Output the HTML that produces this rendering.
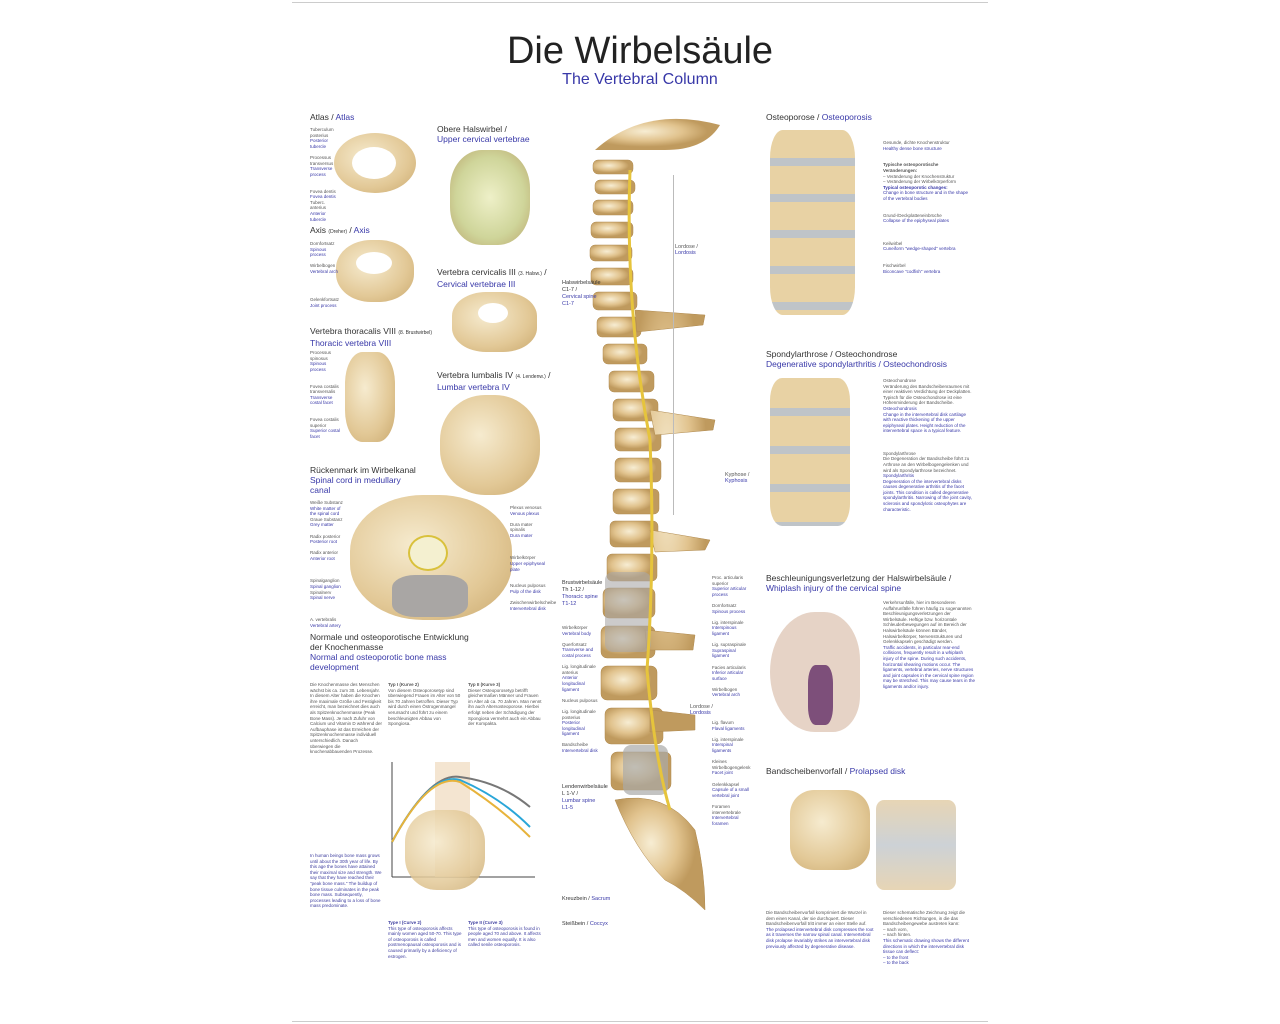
<!DOCTYPE html>
<html><head><meta charset="utf-8"><style>
body{margin:0;background:#fff;width:1280px;height:1024px;overflow:hidden;position:relative;font-family:"Liberation Sans",sans-serif;color:#333}
.a{position:absolute}
.h{font-size:8.5px;color:#333;line-height:10px}
.b{color:#3838a8}
.s{font-size:4.5px;line-height:5.6px;color:#555}
.sb{font-size:4.5px;line-height:5.6px;color:#4040a0}
.bone{position:absolute;background:radial-gradient(ellipse at 40% 40%,#f6ebcf,#e2c896 60%,#c9a86d);border-radius:40%}
</style></head><body>
<div class="a" style="left:292px;top:2px;width:696px;border-top:1px solid #ccc"></div>
<div class="a" style="left:292px;top:1021px;width:696px;border-top:1px solid #ccc"></div>
<div class="a" style="left:0;width:1280px;top:30px;text-align:center;font-size:38px;color:#222">Die Wirbelsäule</div>
<div class="a b" style="left:0;width:1280px;top:71px;text-align:center;font-size:16px">The Vertebral Column</div>

<div class="a h" style="left:310px;top:112px">Atlas / <span class="b">Atlas</span></div>
<div class="a h" style="left:310px;top:225px">Axis <span style="font-size:5px">(Dreher)</span> / <span class="b">Axis</span></div>
<div class="a h" style="left:310px;top:326px">Vertebra thoracalis VIII <span style="font-size:5px">(8. Brustwirbel)</span><br><span class="b">Thoracic vertebra VIII</span></div>
<div class="a h" style="left:310px;top:465px">Rückenmark im Wirbelkanal<br><span class="b">Spinal cord in medullary<br>canal</span></div>
<div class="a h" style="left:310px;top:632px">Normale und osteoporotische Entwicklung<br>der Knochenmasse<br><span class="b">Normal and osteoporotic bone mass<br>development</span></div>
<div class="a h" style="left:437px;top:124px">Obere Halswirbel /<br><span class="b">Upper cervical vertebrae</span></div>
<div class="a h" style="left:437px;top:267px">Vertebra cervicalis III <span style="font-size:5px">(3. Halsw.)</span> /<br><span class="b">Cervical vertebrae III</span></div>
<div class="a h" style="left:437px;top:370px">Vertebra lumbalis IV <span style="font-size:5px">(4. Lendenw.)</span> /<br><span class="b">Lumbar vertebra IV</span></div>
<div class="a h" style="left:766px;top:112px">Osteoporose / <span class="b">Osteoporosis</span></div>
<div class="a h" style="left:766px;top:349px">Spondylarthrose / Osteochondrose<br><span class="b">Degenerative spondylarthritis / Osteochondrosis</span></div>
<div class="a h" style="left:766px;top:573px">Beschleunigungsverletzung der Halswirbelsäule /<br><span class="b">Whiplash injury of the cervical spine</span></div>
<div class="a h" style="left:766px;top:766px">Bandscheibenvorfall / <span class="b">Prolapsed disk</span></div>

<div class="bone" style="left:334px;top:133px;width:82px;height:60px;border-radius:50%"></div>
<div class="a" style="left:352px;top:147px;width:44px;height:32px;border-radius:50%;background:#fff"></div>
<div class="bone" style="left:336px;top:240px;width:78px;height:62px;border-radius:45%"></div>
<div class="a" style="left:356px;top:252px;width:36px;height:22px;border-radius:50%;background:#fff"></div>
<div class="bone" style="left:345px;top:352px;width:50px;height:90px;border-radius:35%"></div>
<div class="bone" style="left:450px;top:150px;width:80px;height:95px;background:radial-gradient(#eef0c8,#cfd59a 60%,#b9a46b)"></div>
<div class="bone" style="left:452px;top:292px;width:85px;height:60px"></div>
<div class="a" style="left:478px;top:303px;width:30px;height:20px;border-radius:50%;background:#fff"></div>
<div class="bone" style="left:440px;top:395px;width:100px;height:100px;border-radius:45%"></div>
<div class="bone" style="left:350px;top:495px;width:162px;height:125px;border-radius:45%"></div>
<div class="a" style="left:408px;top:535px;width:36px;height:32px;border-radius:50%;background:#f4f0d0;border:2px solid #d9c13c"></div>
<div class="a" style="left:392px;top:575px;width:76px;height:42px;border-radius:30%;background:#a9a6a4"></div>

<svg class="a" style="left:390px;top:762px" width="150" height="120">
<line x1="2" y1="0" x2="2" y2="115" stroke="#444" stroke-width="1"/>
<line x1="2" y1="115" x2="145" y2="115" stroke="#444"/>
<rect x="45" y="0" width="35" height="115" fill="#f1dfc5" opacity=".8"/>
<path d="M2 80 Q40 10 70 15 Q110 20 140 45" stroke="#777" fill="none" stroke-width="2"/>
<path d="M2 80 Q40 10 70 18 Q110 35 140 65" stroke="#2aa6d8" fill="none" stroke-width="2"/>
<path d="M2 80 Q40 10 70 20 Q110 45 140 75" stroke="#e7b33b" fill="none" stroke-width="2"/>
</svg>
<div class="bone" style="left:405px;top:810px;width:80px;height:80px;border-radius:40%;opacity:.85"></div>

<svg class="a" style="left:555px;top:110px" width="230" height="820">
<defs><radialGradient id="g" cx="40%" cy="40%"><stop offset="0" stop-color="#f7edd3"/><stop offset=".6" stop-color="#e1c38e"/><stop offset="1" stop-color="#bf9a5e"/></radialGradient></defs>
<path d="M40 40 Q90 -5 165 15 Q150 40 110 40 Z" fill="url(#g)"/>
<g fill="url(#g)" stroke="#b08a4f" stroke-width=".5">
<rect x="38" y="50" width="40" height="14" rx="5"/><rect x="40" y="70" width="40" height="14" rx="5"/>
<rect x="38" y="90" width="40" height="15" rx="5"/><rect x="36" y="112" width="42" height="16" rx="5"/>
<rect x="35" y="135" width="42" height="16" rx="5"/><rect x="36" y="158" width="42" height="17" rx="5"/>
<rect x="38" y="182" width="44" height="18" rx="5"/><rect x="42" y="207" width="44" height="20" rx="5"/>
<rect x="48" y="234" width="44" height="20" rx="5"/><rect x="54" y="261" width="45" height="21" rx="5"/>
<rect x="58" y="289" width="45" height="22" rx="5"/><rect x="60" y="318" width="46" height="23" rx="5"/>
<rect x="60" y="348" width="46" height="24" rx="5"/><rect x="58" y="379" width="46" height="25" rx="5"/>
<rect x="55" y="411" width="48" height="26" rx="5"/><rect x="52" y="444" width="50" height="27" rx="5"/>
<rect x="48" y="478" width="52" height="30" rx="6"/><rect x="46" y="516" width="54" height="32" rx="6"/>
<rect x="46" y="556" width="56" height="34" rx="6"/><rect x="50" y="598" width="58" height="36" rx="6"/>
<rect x="56" y="642" width="60" height="38" rx="6"/>
<path d="M60 690 Q110 680 140 720 Q150 760 150 800 Q130 780 110 770 Q80 740 60 690Z"/>
<path d="M80 200 L150 205 L148 215 L82 222Z M95 300 L160 310 L158 320 L100 325Z M95 420 L155 430 L150 440 L100 442Z M90 520 L140 525 L138 540 L92 540Z M95 600 L140 605 L140 620 L95 622Z"/>
</g>
<g fill="#aaa9a8"><rect x="50" y="462" width="46" height="80" rx="8" opacity=".6"/><rect x="68" y="635" width="45" height="50" rx="8" opacity=".7"/></g>
<path d="M75 60 Q70 200 95 330 Q100 450 92 560 Q100 650 115 700" stroke="#e6c43c" stroke-width="3" fill="none"/>
</svg>
<div class="a" style="left:673px;top:175px;width:1px;height:340px;border-left:1px solid #bbb"></div>
<div class="a s" style="left:675px;top:245px;font-size:5.5px">Lordose /<br><span class="b">Lordosis</span></div>
<div class="a s" style="left:725px;top:473px;font-size:5.5px">Kyphose /<br><span class="b">Kyphosis</span></div>
<div class="a s" style="left:690px;top:705px;font-size:5.5px">Lordose /<br><span class="b">Lordosis</span></div>
<div class="a" style="left:562px;top:280px;font-size:5.5px;line-height:7px">Halswirbelsäule<br>C1-7 /<br><span class="b">Cervical spine<br>C1-7</span></div>
<div class="a" style="left:562px;top:580px;font-size:5.5px;line-height:7px">Brustwirbelsäule<br>Th 1-12 /<br><span class="b">Thoracic spine<br>T1-12</span></div>
<div class="a" style="left:562px;top:784px;font-size:5.5px;line-height:7px">Lendenwirbelsäule<br>L 1-V /<br><span class="b">Lumbar spine<br>L1-5</span></div>
<div class="a" style="left:562px;top:896px;font-size:5.5px">Kreuzbein / <span class="b">Sacrum</span></div>
<div class="a" style="left:562px;top:921px;font-size:5.5px">Steißbein / <span class="b">Coccyx</span></div>

<div class="bone" style="left:770px;top:130px;width:85px;height:185px;border-radius:15%;background:repeating-linear-gradient(#e8d2a4 0 28px,#bfc4c8 28px 36px)"></div>
<div class="bone" style="left:770px;top:378px;width:80px;height:148px;border-radius:15%;background:repeating-linear-gradient(#e8d2a4 0 30px,#bfc4c8 30px 38px)"></div>
<div class="a" style="left:770px;top:612px;width:90px;height:120px;border-radius:50% 40% 30% 50%;background:#e6d3c6"></div>
<div class="a" style="left:808px;top:665px;width:25px;height:60px;background:#7d4f7a;border-radius:30%"></div>
<div class="bone" style="left:790px;top:790px;width:80px;height:80px;border-radius:30%"></div>
<div class="a" style="left:876px;top:800px;width:80px;height:90px;background:linear-gradient(#e7d5b5,#cdd2d6 50%,#e7d5b5);border-radius:10%"></div>

<div class="a s" style="left:883px;top:140px;width:90px">Gesunde, dichte Knochenstruktur<br><span class="b">Healthy dense bone structure</span><br><br><br><b>Typische osteoporotische Veränderungen:</b><br>– Veränderung der Knochenstruktur<br>– Veränderung der Wirbelkörperform<br><span class="b"><b>Typical osteoporotic changes:</b><br>Change in bone structure and in the shape of the vertebral bodies</span><br><br><br>Grund-/Deckplatteneinbrüche<br><span class="b">Collapse of the epiphyseal plates</span><br><br><br><br>Keilwirbel<br><span class="b">Cuneiform "wedge-shaped" vertebra</span><br><br><br>Fischwirbel<br><span class="b">Biconcave "codfish" vertebra</span></div>
<div class="a s" style="left:883px;top:378px;width:90px">Osteochondrose<br>Veränderung des Bandscheibenraumes mit einer reaktiven Verdichtung der Deckplatten. Typisch für die Osteochondrose ist eine Höhenminderung der Bandscheibe.<br><span class="b">Osteochondrosis<br>Change in the intervertebral disk cartilage with reactive thickening of the upper epiphyseal plates. Height reduction of the intervertebral space is a typical feature.</span><br><br><br><br>Spondylarthrose<br>Die Degeneration der Bandscheibe führt zu Arthrose an den Wirbelbogengelenken und wird als Spondylarthrose bezeichnet.<br><span class="b">Spondylarthritis<br>Degeneration of the intervertebral disks causes degenerative arthritis of the facet joints. This condition is called degenerative spondylarthritis. Narrowing of the joint cavity, sclerosis and spondylotic osteophytes are characteristic.</span></div>
<div class="a s" style="left:883px;top:600px;width:92px">Verkehrsunfälle, hier im Besonderen Auffahrunfälle führen häufig zu sogenannten Beschleunigungsverletzungen der Wirbelsäule. Heftige bzw. horizontale Schleuderbewegungen auf im Bereich der Halswirbelsäule können Bänder, Halswirbelkörper, Nervenstrukturen und Gelenkkapseln geschädigt werden.<br><span class="b">Traffic accidents, in particular rear-end collisions, frequently result in a whiplash injury of the spine. During such accidents, horizontal shearing motions occur. The ligaments, vertebral arteries, nerve structures and joint capsules in the cervical spine region may be stretched. This may cause tears in the ligaments and/or injury.</span></div>
<div class="a s" style="left:766px;top:910px;width:110px">Die Bandscheibenvorfall komprimiert die Wurzel in dem einen Kanal, der sie durchquert. Dieser Bandscheibenvorfall tritt immer an einer Stelle auf.<br><span class="b">The prolapsed intervertebral disk compresses the root as it traverses the narrow spinal canal. Intervertebral disk prolapse invariably strikes an intervertebral disk previously affected by degenerative disease.</span></div>
<div class="a s" style="left:883px;top:910px;width:90px">Dieser schematische Zeichnung zeigt die verschiedenen Richtungen, in die das Bandscheibengewebe austreten kann:<br>– nach vorn,<br>– nach hinten.<br><span class="b">This schematic drawing shows the different directions in which the intervertebral disk tissue can deflect:<br>– to the front<br>– to the back</span></div>
<div class="a s" style="left:310px;top:682px;width:72px">Die Knochenmasse des Menschen wächst bis ca. zum 30. Lebensjahr. In diesem Alter haben die Knochen ihre maximale Größe und Festigkeit erreicht, man bezeichnet dies auch als Spitzenknochenmasse (Peak Bone Mass). Je nach Zufuhr von Calcium und Vitamin D während der Aufbauphase ist das Erreichen der Spitzenknochenmasse individuell unterschiedlich. Danach überwiegen die knochenabbauenden Prozesse.</div>
<div class="a sb" style="left:310px;top:853px;width:72px">In human beings bone mass grows until about the 30th year of life. By this age the bones have attained their maximal size and strength. We say that they have reached their "peak bone mass." The buildup of bone tissue culminates in the peak bone mass. Subsequently, processes leading to a loss of bone mass predominate.</div>
<div class="a s" style="left:388px;top:682px;width:75px"><b>Typ I (Kurve 2)</b><br>Von diesem Osteoporosetyp sind überwiegend Frauen im Alter von 50 bis 70 Jahren betroffen. Dieser Typ wird durch einen Östrogenmangel verursacht und führt zu einem beschleunigten Abbau von Spongiosa.</div>
<div class="a s" style="left:468px;top:682px;width:75px"><b>Typ II (Kurve 3)</b><br>Dieser Osteoporosetyp betrifft gleichermaßen Männer und Frauen im Alter ab ca. 70 Jahren. Man nennt ihn auch Altersosteoporose. Hierbei erfolgt neben der Schädigung der Spongiosa vermehrt auch ein Abbau der Kompakta.</div>
<div class="a sb" style="left:388px;top:920px;width:75px"><b>Type I (Curve 2)</b><br>This type of osteoporosis affects mainly women aged 50-70. This type of osteoporosis is called postmenopausal osteoporosis and is caused primarily by a deficiency of estrogen.</div>
<div class="a sb" style="left:468px;top:920px;width:75px"><b>Type II (Curve 3)</b><br>This type of osteoporosis is found in people aged 70 and above. It affects men and women equally. It is also called senile osteoporosis.</div>
<div class="a s" style="left:310px;top:127px;width:26px">Tuberculum posterius<br><span class="b">Posterior tubercle</span><br><br>Processus transversus<br><span class="b">Transverse process</span><br><br><br>Fovea dentis<br><span class="b">Fovea dentis</span><br>Tuberc. anterius<br><span class="b">Anterior tubercle</span></div>
<div class="a s" style="left:310px;top:241px;width:28px">Dornfortsatz<br><span class="b">Spinous process</span><br><br>Wirbelbogen<br><span class="b">Vertebral arch</span><br><br><br><br><br>Gelenkfortsatz<br><span class="b">Joint process</span></div>
<div class="a s" style="left:310px;top:350px;width:32px">Processus spinosus<br><span class="b">Spinous process</span><br><br><br>Fovea costalis transversalis<br><span class="b">Transverse costal facet</span><br><br><br>Fovea costalis superior<br><span class="b">Superior costal facet</span></div>
<div class="a s" style="left:310px;top:500px;width:36px">Weiße Substanz<br><span class="b">White matter of the spinal cord</span><br>Graue Substanz<br><span class="b">Grey matter</span><br><br>Radix posterior<br><span class="b">Posterior root</span><br><br>Radix anterior<br><span class="b">Anterior root</span><br><br><br><br>Spinalganglion<br><span class="b">Spinal ganglion</span><br>Spinalnerv<br><span class="b">Spinal nerve</span><br><br><br><br>A. vertebralis<br><span class="b">Vertebral artery</span></div>
<div class="a s" style="left:510px;top:505px;width:36px">Plexus venosus<br><span class="b">Venous plexus</span><br><br>Dura mater spinalis<br><span class="b">Dura mater</span><br><br><br><br>Wirbelkörper<br><span class="b">Upper epiphyseal plate</span><br><br><br>Nucleus pulposus<br><span class="b">Pulp of the disk</span><br><br>Zwischenwirbelscheibe<br><span class="b">Intervertebral disk</span></div>
<div class="a s" style="left:712px;top:575px;width:40px">Proc. articularis superior<br><span class="b">Superior articular process</span><br><br>Dornfortsatz<br><span class="b">Spinous process</span><br><br>Lig. interspinale<br><span class="b">Interspinous ligament</span><br><br>Lig. supraspinale<br><span class="b">Supraspinal ligament</span><br><br>Facies articularis<br><span class="b">Inferior articular surface</span><br><br>Wirbelbogen<br><span class="b">Vertebral arch</span></div>
<div class="a s" style="left:712px;top:720px;width:40px">Lig. flavum<br><span class="b">Flaval ligaments</span><br><br>Lig. interspinale<br><span class="b">Interspinal ligaments</span><br><br>Kleines Wirbelbogengelenk<br><span class="b">Facet joint</span><br><br>Gelenkkapsel<br><span class="b">Capsule of a small vertebral joint</span><br><br>Foramen intervertebrale<br><span class="b">Intervertebral foramen</span></div>
<div class="a s" style="left:562px;top:625px;width:36px">Wirbelkörper<br><span class="b">Vertebral body</span><br><br>Querfortsatz<br><span class="b">Transverse and costal process</span><br><br>Lig. longitudinale anterius<br><span class="b">Anterior longitudinal ligament</span><br><br>Nucleus pulposus<br><br>Lig. longitudinale posterius<br><span class="b">Posterior longitudinal ligament</span><br><br>Bandscheibe<br><span class="b">Intervertebral disk</span></div>
</body></html>
